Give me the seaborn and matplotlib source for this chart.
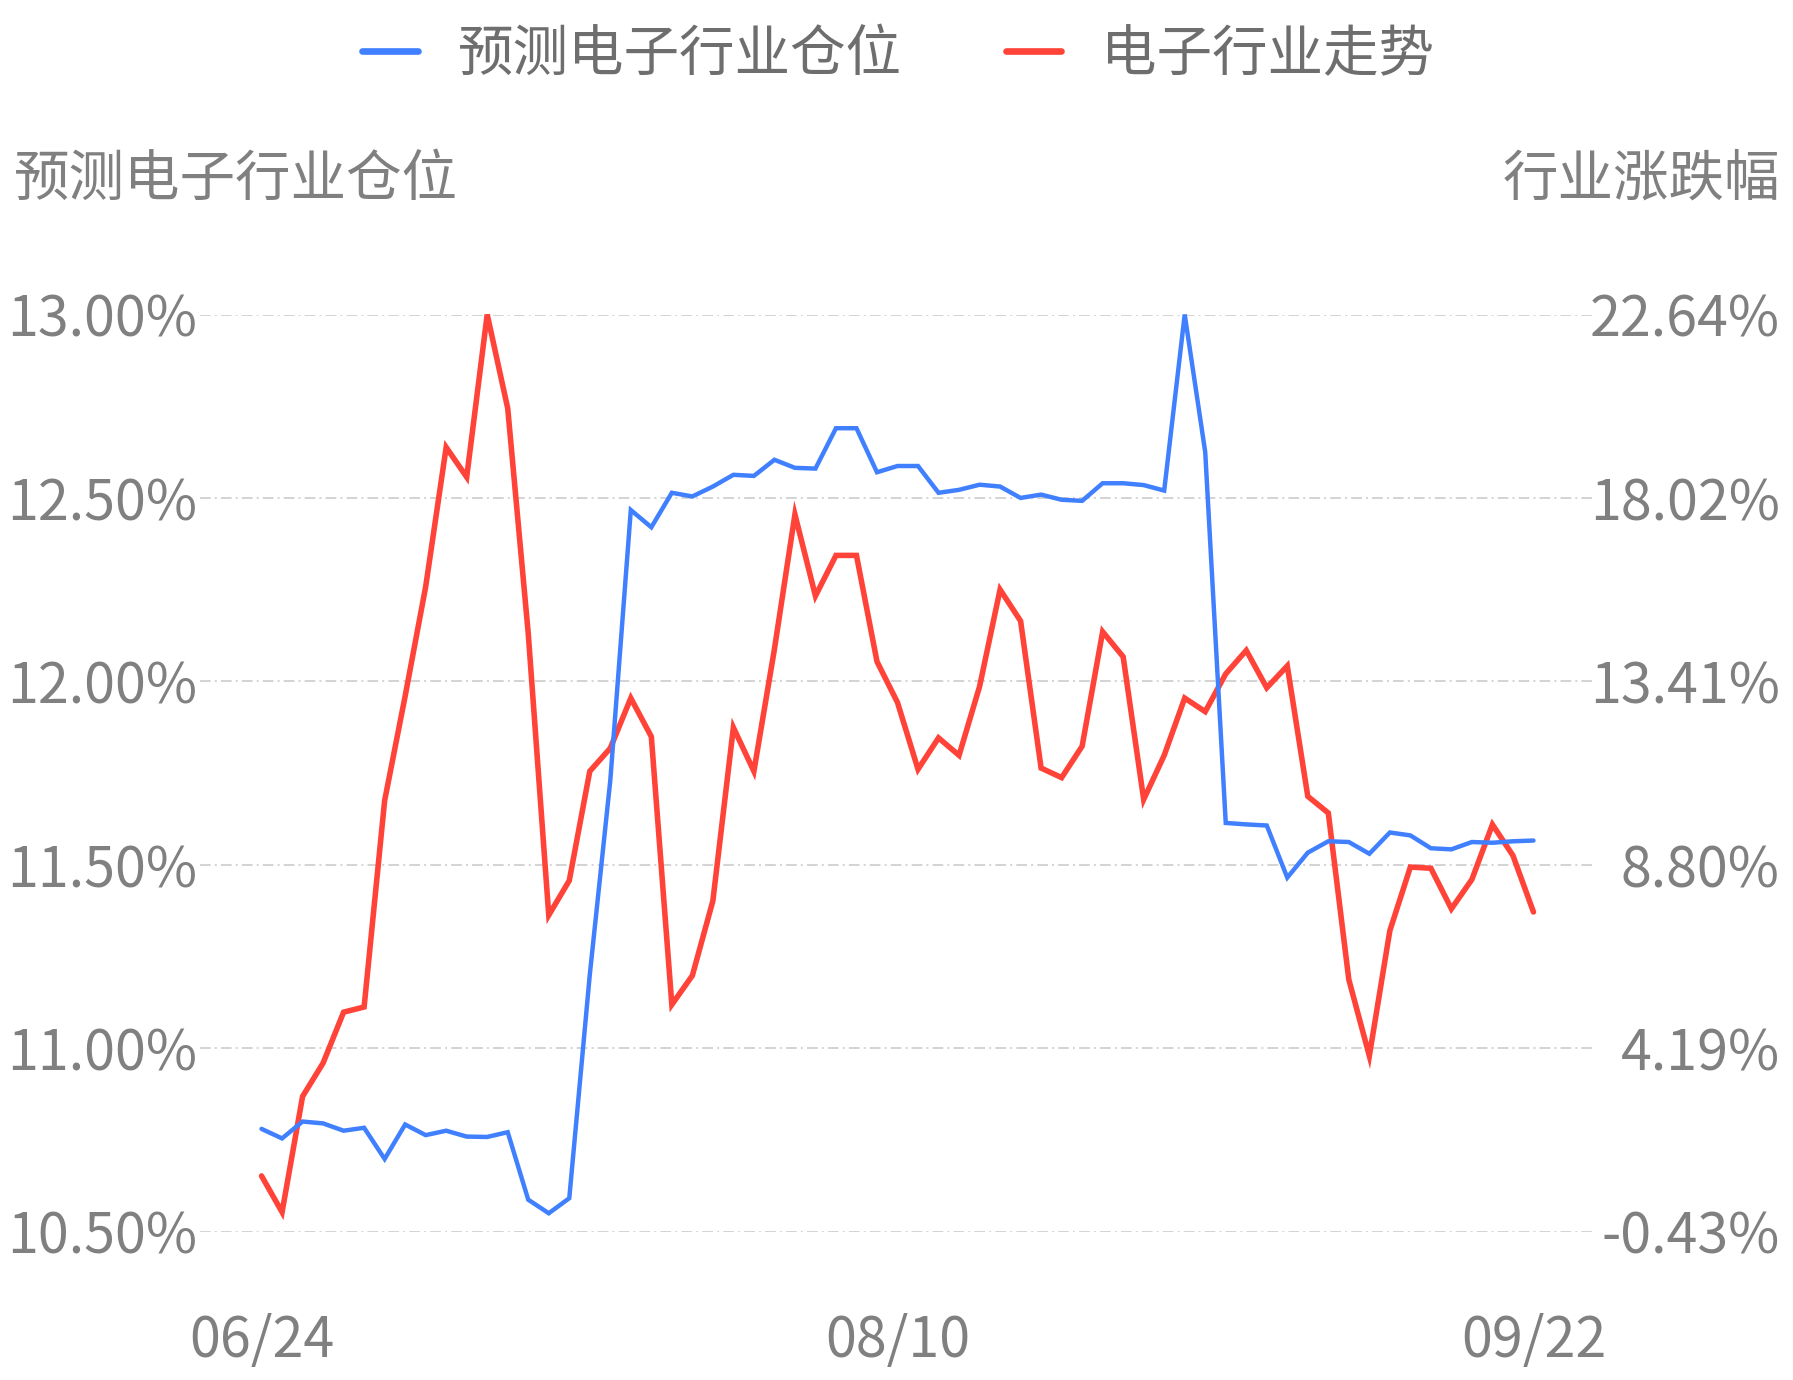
import numpy as np
import pandas as pd
import matplotlib
matplotlib.use('Agg')
import matplotlib.pyplot as plt
from matplotlib.lines import Line2D
import seaborn as sns

# 数据
position = [10.780, 10.754, 10.800, 10.795, 10.775, 10.783, 10.698, 10.792, 10.763, 10.775,
            10.759, 10.758, 10.771, 10.587, 10.550, 10.591, 11.200, 11.730, 12.467, 12.420,
            12.514, 12.504, 12.531, 12.563, 12.560, 12.604, 12.582, 12.580, 12.690, 12.690,
            12.570, 12.587, 12.587, 12.514, 12.522, 12.536, 12.531, 12.500, 12.509, 12.495,
            12.492, 12.540, 12.540, 12.535, 12.520, 13.000, 12.625, 11.614, 11.610, 11.607,
            11.465, 11.533, 11.564, 11.562, 11.530, 11.588, 11.580, 11.545, 11.542, 11.562,
            11.560, 11.564, 11.566]
trend = [0.97, 0.06, 2.97, 3.81, 5.09, 5.22, 10.41, 13.04, 15.79, 19.30,
         18.55, 22.64, 20.28, 14.62, 7.53, 8.40, 11.15, 11.73, 12.99, 12.02,
         5.28, 6.01, 7.89, 12.25, 11.15, 14.22, 17.61, 15.56, 16.58, 16.58,
         13.91, 12.88, 11.20, 11.99, 11.55, 13.28, 15.72, 14.93, 11.23, 10.99,
         11.78, 14.66, 14.03, 10.44, 11.55, 12.99, 12.65, 13.60, 14.19, 13.25,
         13.80, 10.52, 10.10, 5.91, 3.99, 7.14, 8.74, 8.71, 7.69, 8.43,
         9.81, 9.03, 7.61]
date_labels = ['06/24', '08/10', '09/22']
date_idx = [0, 31, 62]
left_ticks = [10.5, 11.0, 11.5, 12.0, 12.5, 13.0]
right_labels = ['-0.43%', '4.19%', '8.80%', '13.41%', '18.02%', '22.64%']
right_min, right_max = -0.43, 22.64

BLUE = '#4080ff'
RED = '#ff4338'
TXT = '#808080'
FS = 40

df = pd.DataFrame({'idx': np.arange(len(position)), 'position': position, 'trend': trend})

sns.set_theme(style='white')
plt.rcParams['font.family'] = ['Noto Sans CJK SC', 'DejaVu Sans']

fig = plt.figure(figsize=(17.93, 13.80), dpi=100)
W, H = 1793, 1380
ax = fig.add_axes([200 / W, 1 - 1231.6 / H, 1395 / W, (1231.6 - 314.5) / H])
ax2 = ax.twinx()

# 红线在右轴，网格线也画在右轴
sns.lineplot(data=df, x='idx', y='trend', ax=ax2, color=RED, linewidth=4.0, legend=False)
sns.lineplot(data=df, x='idx', y='position', ax=ax, color=BLUE, linewidth=3.2, legend=False)
for ln in ax.lines + ax2.lines:
    ln.set_clip_on(False)
    ln.set_solid_joinstyle('miter')
    ln.set_solid_capstyle('round')

# 蓝线在上层
ax.set_zorder(ax2.get_zorder() + 1)
ax.patch.set_visible(False)

ax.set_xlim(-3, 65)
ax.set_ylim(10.5, 13.0)
ax2.set_ylim(right_min, right_max)

ax.set_yticks(left_ticks, [f'{v:.2f}%' for v in left_ticks])
ax2.set_yticks(np.linspace(right_min, right_max, 6), right_labels)
ax.set_xticks(date_idx, date_labels)

ax2.grid(axis='y', color='#c8c8c8', lw=1.1, linestyle=(0, (7, 2.7, 1.3, 2.7)))
ax2.grid(axis='x', visible=False)
ax.grid(False)

ax.tick_params(axis='y', length=0, pad=2, labelsize=FS, labelcolor=TXT)
ax.tick_params(axis='x', length=0, pad=58, labelsize=FS, labelcolor=TXT)
ax2.tick_params(axis='y', length=0, pad=133, labelsize=FS, labelcolor=TXT)
for lbl in ax2.get_yticklabels():
    lbl.set_horizontalalignment('right')

for a in (ax, ax2):
    a.set_xlabel('')
    a.set_ylabel('')
    for s in a.spines.values():
        s.set_visible(False)

# 轴标题
fig.text(14 / W, 1 - 180 / H, '预测电子行业仓位', ha='left', va='center', fontsize=FS, color=TXT)
fig.text(1780 / W, 1 - 180 / H, '行业涨跌幅', ha='right', va='center', fontsize=FS, color=TXT)

# 图例
handles = [Line2D([0], [0], color=BLUE, lw=4.8, solid_capstyle='round'),
           Line2D([0], [0], color=RED, lw=4.8, solid_capstyle='round')]
fig.legend(handles, ['预测电子行业仓位', '电子行业走势'], loc='center', bbox_to_anchor=(0.501, 1 - 55 / H),
           ncol=2, frameon=False, fontsize=FS, labelcolor='#6e6e6e',
           handlelength=1.0, handletextpad=0.72, columnspacing=1.87)

fig.savefig('out.png', dpi=100, facecolor='white')
